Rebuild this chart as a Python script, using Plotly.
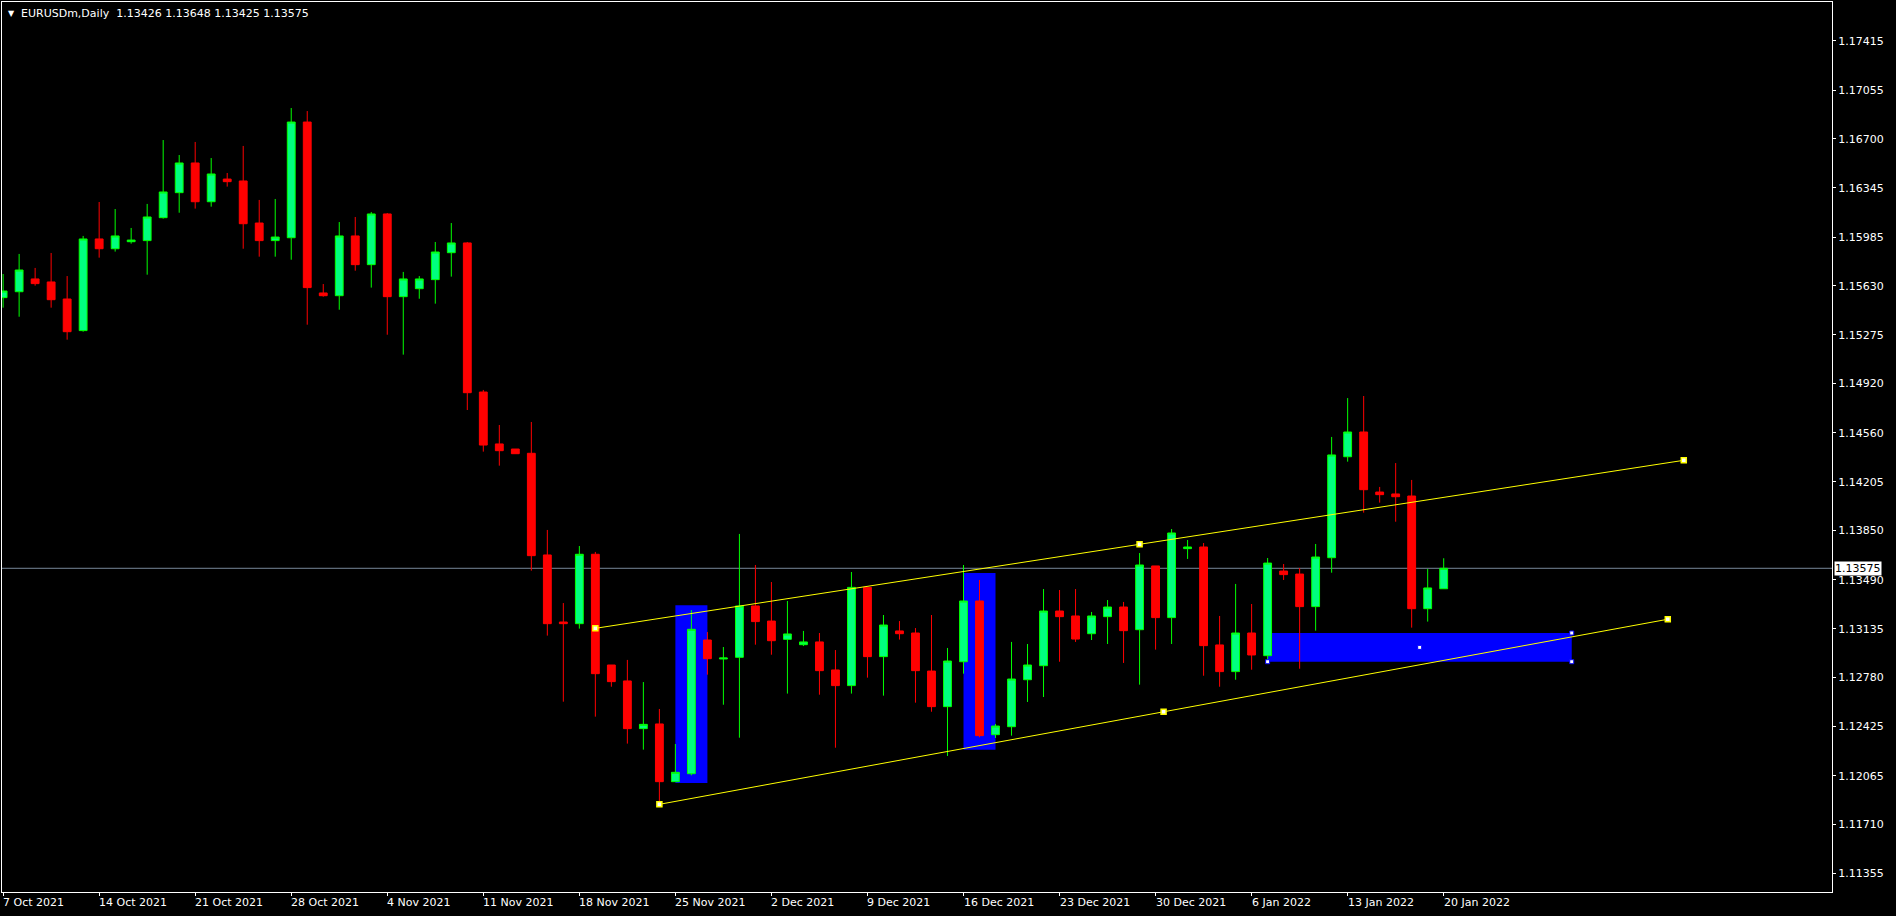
import plotly.graph_objects as go

# ---------------- data ----------------
bar_index = list(range(91))  # daily bars, 7 Oct 2021 (0) ... 20 Jan 2022 (90), 6 bars / week

opens = [1.15545, 1.15588, 1.15681, 1.15659, 1.15535, 1.15305, 1.15972, 1.15901, 1.15952, 1.15960,
         1.16127, 1.16309, 1.16525, 1.16243, 1.16408, 1.16394, 1.16088, 1.15960, 1.15981, 1.16823,
         1.15579, 1.15559, 1.15994, 1.15785, 1.16154, 1.15552, 1.15610, 1.15676, 1.15872, 1.15943,
         1.14858, 1.14480, 1.14443, 1.14412, 1.13672, 1.13184, 1.13172, 1.13677, 1.12871, 1.12755,
         1.12408, 1.12442, 1.12022, 1.12080, 1.13053, 1.12915, 1.12927, 1.13301, 1.13191, 1.13058,
         1.13019, 1.13039, 1.12835, 1.12721, 1.13436, 1.12932, 1.13119, 1.13104, 1.12827, 1.12568,
         1.12895, 1.13337, 1.12364, 1.12422, 1.12764, 1.12866, 1.13264, 1.13228, 1.13099, 1.13223,
         1.13293, 1.13128, 1.13592, 1.13216, 1.13718, 1.13730, 1.13017, 1.12823, 1.13104, 1.12939,
         1.13555, 1.13533, 1.13296, 1.13652, 1.14387, 1.14567, 1.14130, 1.14116, 1.14101, 1.13281,
         1.13426]
highs = [1.15717, 1.15863, 1.15761, 1.15870, 1.15702, 1.15994, 1.16241, 1.16190, 1.16052, 1.16227,
         1.16692, 1.16583, 1.16678, 1.16561, 1.16452, 1.16649, 1.16256, 1.16263, 1.16925, 1.16903,
         1.15644, 1.16095, 1.16132, 1.16168, 1.16161, 1.15732, 1.15702, 1.15950, 1.16088, 1.15950,
         1.14873, 1.14618, 1.14443, 1.14640, 1.13854, 1.13322, 1.13737, 1.13694, 1.12871, 1.12908,
         1.12747, 1.12551, 1.12296, 1.13271, 1.13111, 1.13002, 1.13825, 1.13599, 1.13475, 1.13337,
         1.13119, 1.13104, 1.12980, 1.13548, 1.13436, 1.13235, 1.13191, 1.13140, 1.13235, 1.12995,
         1.13599, 1.13490, 1.12442, 1.13039, 1.13024, 1.13424, 1.13417, 1.13424, 1.13257, 1.13344,
         1.13330, 1.13686, 1.13592, 1.13861, 1.13781, 1.13759, 1.13228, 1.13461, 1.13315, 1.13650,
         1.13606, 1.13577, 1.13752, 1.14531, 1.14814, 1.14829, 1.14167, 1.14341, 1.14218, 1.13570,
         1.13648]
lows = [1.15472, 1.15406, 1.15632, 1.15472, 1.15239, 1.15297, 1.15836, 1.15880, 1.15938, 1.15712,
        1.16120, 1.16163, 1.16193, 1.16207, 1.16353, 1.15901, 1.15843, 1.15843, 1.15821, 1.15348,
        1.15552, 1.15457, 1.15741, 1.15618, 1.15275, 1.15130, 1.15537, 1.15501, 1.15698, 1.14727,
        1.14424, 1.14322, 1.14409, 1.13558, 1.13085, 1.12604, 1.13136, 1.12495, 1.12713, 1.12299,
        1.12255, 1.11859, 1.12022, 1.12068, 1.12801, 1.12582, 1.12342, 1.13019, 1.12946, 1.12663,
        1.13009, 1.12655, 1.12269, 1.12663, 1.12779, 1.12648, 1.13056, 1.12597, 1.12531, 1.12209,
        1.12808, 1.12345, 1.12340, 1.12357, 1.12602, 1.12638, 1.12895, 1.13039, 1.13053, 1.13024,
        1.12886, 1.12728, 1.12983, 1.13024, 1.13643, 1.12793, 1.12713, 1.12764, 1.12837, 1.12895,
        1.13490, 1.12844, 1.13121, 1.13543, 1.14351, 1.13980, 1.14053, 1.13914, 1.13143, 1.13187,
        1.13425]
closes = [1.15593, 1.15746, 1.15647, 1.15530, 1.15297, 1.15972, 1.15901, 1.15994, 1.15964, 1.16132,
          1.16314, 1.16525, 1.16243, 1.16445, 1.16389, 1.16083, 1.15960, 1.15986, 1.16823, 1.15618,
          1.15559, 1.15994, 1.15785, 1.16154, 1.15552, 1.15681, 1.15681, 1.15877, 1.15943, 1.14853,
          1.14472, 1.14431, 1.14409, 1.13667, 1.13172, 1.13172, 1.13677, 1.12808, 1.12750, 1.12408,
          1.12439, 1.12022, 1.12090, 1.13131, 1.12917, 1.12922, 1.13301, 1.13187, 1.13048, 1.13097,
          1.13039, 1.12830, 1.12721, 1.13436, 1.12932, 1.13162, 1.13099, 1.12830, 1.12568, 1.12900,
          1.13337, 1.12357, 1.12427, 1.12769, 1.12871, 1.13264, 1.13223, 1.13060, 1.13228, 1.13293,
          1.13121, 1.13599, 1.13216, 1.13832, 1.13730, 1.13012, 1.12823, 1.13104, 1.12944, 1.13613,
          1.13529, 1.13296, 1.13657, 1.14400, 1.14567, 1.14147, 1.14111, 1.14096, 1.13281, 1.13432,
          1.13575]

x_tick_index = [0, 6, 12, 18, 24, 30, 36, 42, 48, 54, 60, 66, 72, 78, 84, 90]
x_tick_labels = ["7 Oct 2021", "14 Oct 2021", "21 Oct 2021", "28 Oct 2021", "4 Nov 2021",
                 "11 Nov 2021", "18 Nov 2021", "25 Nov 2021", "2 Dec 2021", "9 Dec 2021",
                 "16 Dec 2021", "23 Dec 2021", "30 Dec 2021", "6 Jan 2022", "13 Jan 2022",
                 "20 Jan 2022"]
y_tick_values = [1.17415, 1.17055, 1.16700, 1.16345, 1.15985, 1.15630, 1.15275, 1.14920, 1.14560,
                 1.14205, 1.13850, 1.13490, 1.13135, 1.12780, 1.12425, 1.12065, 1.11710, 1.11355]

current_price = 1.13575
header_text = "EURUSDm,Daily\u00a0\u00a01.13426\u00a01.13648\u00a01.13425\u00a01.13575"

# trend lines: (bar index, price)
upper_line_x = [37, 105]
upper_line_y = [1.13138, 1.14361]
lower_line_x = [41, 104]
lower_line_y = [1.11857, 1.13204]

# rectangles: x0, x1, y0, y1
rect_x0 = [42, 60, 79]
rect_x1 = [44, 62, 98]
rect_y0 = [1.12012, 1.12255, 1.12895]
rect_y1 = [1.13306, 1.13541, 1.13104]

# ---------------- figure ----------------
FONT = "DejaVu Sans"
fig = go.Figure()

fig.add_trace(go.Candlestick(
    x=bar_index, open=opens, high=highs, low=lows, close=closes,
    increasing=dict(fillcolor="#00FF7F", line=dict(color="#00FF00", width=1)),
    decreasing=dict(fillcolor="#FF0000", line=dict(color="#FF0000", width=1)),
    whiskerwidth=0, showlegend=False, hoverinfo="skip",
))

# trend lines with anchor handles
for lx, ly in ((upper_line_x, upper_line_y), (lower_line_x, lower_line_y)):
    fig.add_trace(go.Scatter(x=lx, y=ly, mode="lines",
                             line=dict(color="#FFFF00", width=1),
                             showlegend=False, hoverinfo="skip"))
    mx = [lx[0], (lx[0] + lx[1]) / 2, lx[1]]
    my = [ly[0], (ly[0] + ly[1]) / 2, ly[1]]
    fig.add_trace(go.Scatter(x=mx, y=my, mode="markers",
                             marker=dict(symbol="square", size=5, color="#FFFFFF",
                                         line=dict(color="#FFFF00", width=1.5)),
                             showlegend=False, hoverinfo="skip"))

# selection handles of the last rectangle
hx = [rect_x0[2], rect_x1[2], rect_x1[2], (rect_x0[2] + rect_x1[2]) / 2]
hy = [rect_y0[2], rect_y1[2], rect_y0[2], (rect_y0[2] + rect_y1[2]) / 2]
fig.add_trace(go.Scatter(x=hx, y=hy, mode="markers",
                         marker=dict(symbol="square", size=4, color="#FFFFFF",
                                     line=dict(color="#0000FF", width=1)),
                         showlegend=False, hoverinfo="skip"))

shapes = []
for x0, x1, y0, y1 in zip(rect_x0, rect_x1, rect_y0, rect_y1):
    shapes.append(dict(type="rect", xref="x", yref="y", x0=x0, x1=x1, y0=y0, y1=y1,
                       fillcolor="#0000FF", line=dict(width=0), layer="below"))
shapes.append(dict(type="line", xref="paper", yref="y", x0=0, x1=1,
                   y0=current_price, y1=current_price,
                   line=dict(color="#778899", width=1), layer="below"))

annotations = []
for xi, lab in zip(x_tick_index, x_tick_labels):
    annotations.append(dict(x=xi, y=0, xref="x", yref="paper", text=lab, showarrow=False,
                            xanchor="left", yanchor="top", yshift=-3, xshift=-1, borderpad=0,
                            font=dict(family=FONT, size=11, color="#FFFFFF")))
annotations.append(dict(x=1, y=current_price, xref="paper", yref="y",
                        text="%.5f" % current_price, showarrow=False,
                        xanchor="left", yanchor="middle", xshift=2, borderpad=0,
                        bgcolor="#FFFFFF", font=dict(family=FONT, size=11, color="#000000")))
annotations.append(dict(x=0, y=1, xref="paper", yref="paper", text="▼", showarrow=False,
                        xanchor="left", yanchor="top", xshift=5, yshift=-6, borderpad=0,
                        font=dict(family=FONT, size=8, color="#FFFFFF")))
annotations.append(dict(x=0, y=1, xref="paper", yref="paper", text=header_text,
                        showarrow=False, xanchor="left", yanchor="top", xshift=18, yshift=-4,
                        borderpad=0, font=dict(family=FONT, size=11, color="#FFFFFF")))

fig.update_layout(
    width=1896, height=916,
    margin=dict(l=2, r=64, t=2, b=24, pad=0),
    paper_bgcolor="#000000", plot_bgcolor="#000000",
    shapes=shapes, annotations=annotations,
    showlegend=False, hovermode=False,
    xaxis=dict(range=[-0.07, 114.26], rangeslider=dict(visible=False),
               showgrid=False, zeroline=False,
               showline=True, mirror=True, linecolor="#FFFFFF", linewidth=1,
               tickmode="array", tickvals=x_tick_index, ticks="outside", ticklen=3,
               tickcolor="#FFFFFF", showticklabels=False),
    yaxis=dict(range=[1.112189, 1.176967], side="right",
               showgrid=False, zeroline=False,
               showline=True, mirror=True, linecolor="#FFFFFF", linewidth=1,
               tickmode="array", tickvals=y_tick_values,
               ticktext=["%.5f" % v for v in y_tick_values],
               ticks="outside", ticklen=3, tickcolor="#FFFFFF",
               tickfont=dict(family=FONT, size=11, color="#FFFFFF")),
)

fig.write_html("out.html", config={"displayModeBar": False},
               post_script="document.body.style.margin='0';document.body.style.overflow='hidden';")
